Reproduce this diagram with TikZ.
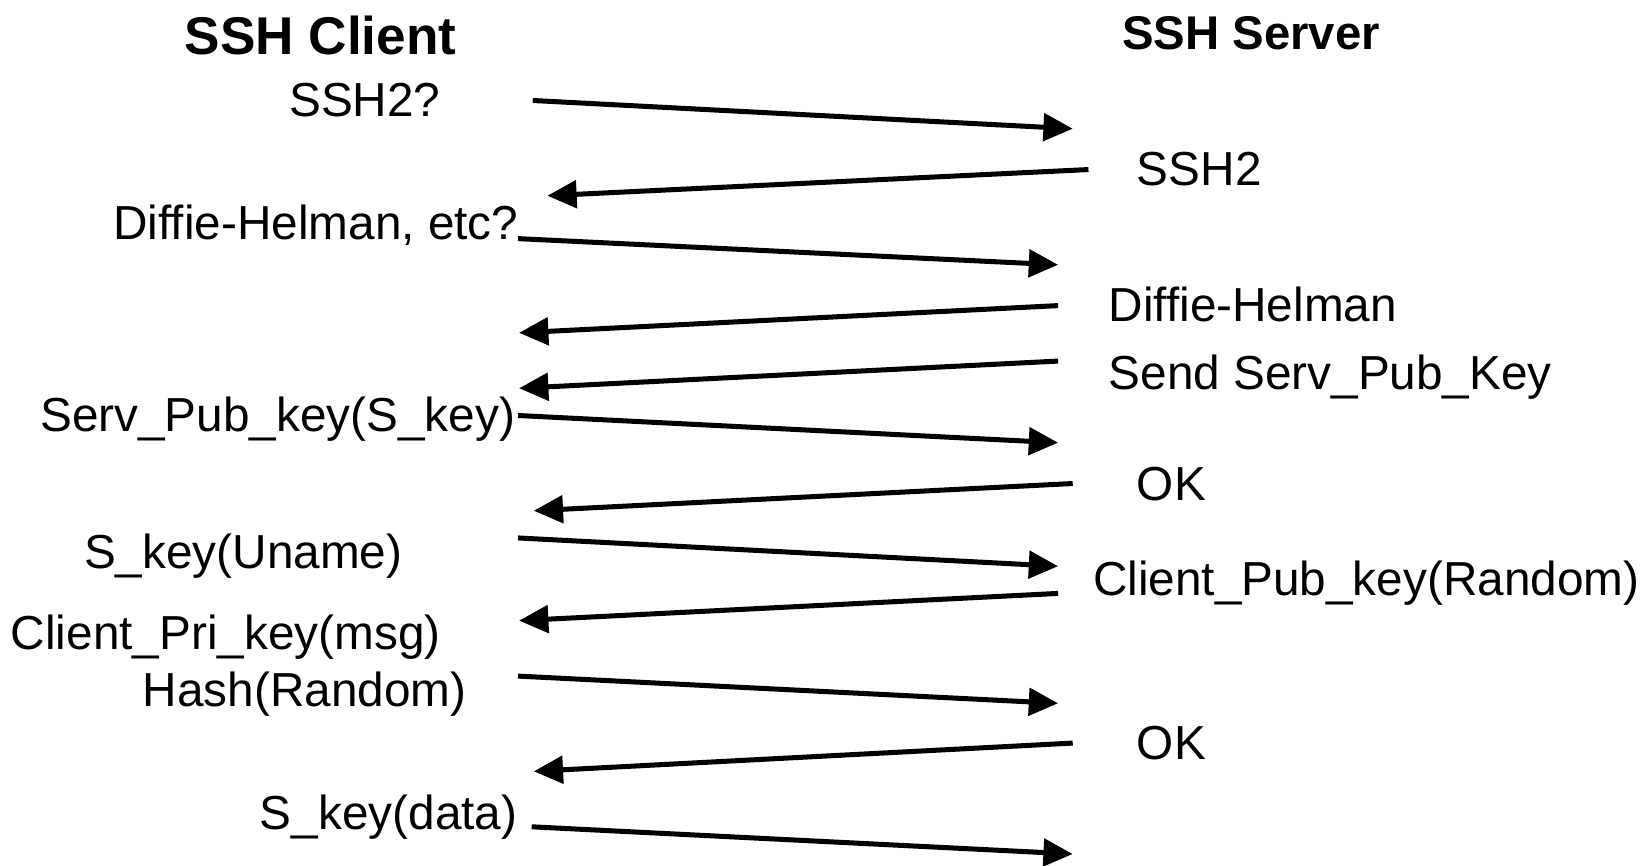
\documentclass[tikz,border=0pt]{standalone}
\usepackage{fontspec}
\setmainfont{Liberation Sans}
\usetikzlibrary{arrows.meta}
\begin{document}
\begin{tikzpicture}[x=0.5pt,y=-0.5pt,
  lbl/.style={anchor=base west,inner sep=0pt,font=\fontsize{22.8pt}{27pt}\selectfont},
  ttl/.style={anchor=base west,inner sep=0pt,font=\bfseries},
  msg/.style={line width=2.4pt,-{Triangle[length=14pt,width=13pt]}}]
\useasboundingbox (0,0) rectangle (1568,827);

% column titles
\node[ttl,font=\fontsize{25.4pt}{30pt}\bfseries\selectfont] (client) at (176,52) {SSH Client};
\node[ttl,font=\fontsize{22.6pt}{27pt}\bfseries\selectfont] (server) at (1072,47) {SSH Server};

% client side labels
\node[lbl] (l1) at (276,111) {SSH2?};
\node[lbl] (l2) at (108,229) {Diffie-Helman, etc?};
\node[lbl] (l3) at (38,412) {Serv\_Pub\_key(S\_key)};
\node[lbl] (l4) at (80,543) {S\_key(Uname)};
\node[lbl] (l5) at (10,621) {Client\_Pri\_key(msg)};
\node[lbl] (l6) at (136,675) {Hash(Random)};
\node[lbl] (l7) at (248,793) {S\_key(data)};

% server side labels
\node[lbl] (r1) at (1086,177) {SSH2};
\node[lbl] (r2) at (1059,307) {Diffie-Helman};
\node[lbl] (r3) at (1059,372) {Send Serv\_Pub\_Key};
\node[lbl] (r4) at (1086,478) {OK};
\node[lbl] (r5) at (1044,569) {Client\_Pub\_key(Random)};
\node[lbl] (r6) at (1086,726) {OK};

% message end points (client side a*, server side b*)
\coordinate (a1) at (509,96);   \coordinate (b1) at (1025,123);
\coordinate (a2) at (523,187);  \coordinate (b2) at (1040,162);
\coordinate (a3) at (495,228);  \coordinate (b3) at (1011,253);
\coordinate (a4) at (496,318);  \coordinate (b4) at (1011,292);
\coordinate (a5) at (496,371);  \coordinate (b5) at (1011,345);
\coordinate (a6) at (495,397);  \coordinate (b6) at (1011,423);
\coordinate (a7) at (510,488);  \coordinate (b7) at (1025,462);
\coordinate (a8) at (495,514);  \coordinate (b8) at (1011,541);
\coordinate (a9) at (496,593);  \coordinate (b9) at (1011,567);
\coordinate (a10) at (495,646); \coordinate (b10) at (1011,672);
\coordinate (a11) at (510,737); \coordinate (b11) at (1025,710);
\coordinate (a12) at (508,790); \coordinate (b12) at (1025,816);

% messages
\draw[msg] (a1) -- (b1);
\draw[msg] (b2) -- (a2);
\draw[msg] (a3) -- (b3);
\draw[msg] (b4) -- (a4);
\draw[msg] (b5) -- (a5);
\draw[msg] (a6) -- (b6);
\draw[msg] (b7) -- (a7);
\draw[msg] (a8) -- (b8);
\draw[msg] (b9) -- (a9);
\draw[msg] (a10) -- (b10);
\draw[msg] (b11) -- (a11);
\draw[msg] (a12) -- (b12);
\end{tikzpicture}
\end{document}
